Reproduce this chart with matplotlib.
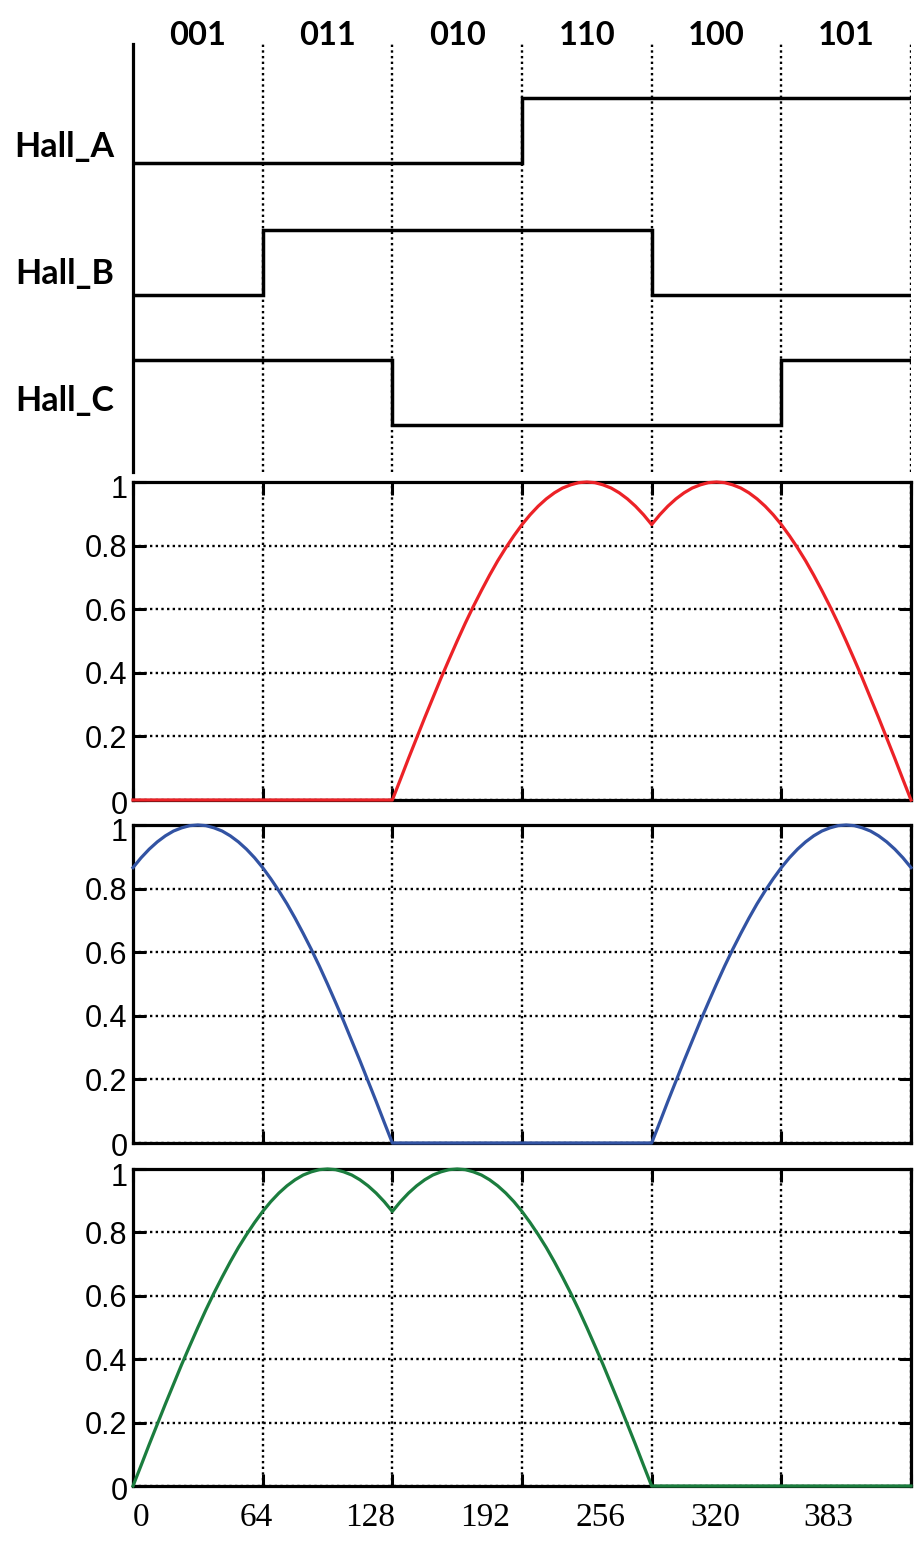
import matplotlib
matplotlib.use("Agg")
import matplotlib.pyplot as plt
from matplotlib.transforms import ScaledTranslation

# Hall sector codes (bits: Hall_A, Hall_B, Hall_C), one sector per 64 counts
SECTOR_CODES = ["001", "011", "010", "110", "100", "101"]
SECTOR_EDGES = [0, 64, 128, 192, 256, 320, 384]
HALL_NAMES = ["Hall_A", "Hall_B", "Hall_C"]

# waveform samples, every 4 counts from 0 to 384
POSITION = list(range(0, 385, 4))
PHASE_RED = [0.0] * 33 + [
    0.065, 0.131, 0.195, 0.259, 0.321, 0.383, 0.442, 0.500,
    0.556, 0.609, 0.659, 0.707, 0.752, 0.793, 0.831, 0.866,
    0.897, 0.924, 0.947, 0.966, 0.981, 0.991, 0.998, 1.000,
    0.998, 0.991, 0.981, 0.966, 0.947, 0.924, 0.897, 0.866,
    0.897, 0.924, 0.947, 0.966, 0.981, 0.991, 0.998, 1.000,
    0.998, 0.991, 0.981, 0.966, 0.947, 0.924, 0.897, 0.866,
    0.831, 0.793, 0.752, 0.707, 0.659, 0.609, 0.556, 0.500,
    0.442, 0.383, 0.321, 0.259, 0.195, 0.131, 0.065, 0.000,
]
PHASE_BLUE = [
    0.866, 0.897, 0.924, 0.947, 0.966, 0.981, 0.991, 0.998, 1.000,
    0.998, 0.991, 0.981, 0.966, 0.947, 0.924, 0.897, 0.866,
    0.831, 0.793, 0.752, 0.707, 0.659, 0.609, 0.556, 0.500,
    0.442, 0.383, 0.321, 0.259, 0.195, 0.131, 0.065, 0.000,
] + [0.0] * 32 + [
    0.065, 0.131, 0.195, 0.259, 0.321, 0.383, 0.442, 0.500,
    0.556, 0.609, 0.659, 0.707, 0.752, 0.793, 0.831, 0.866,
    0.897, 0.924, 0.947, 0.966, 0.981, 0.991, 0.998, 1.000,
    0.998, 0.991, 0.981, 0.966, 0.947, 0.924, 0.897, 0.866,
]
PHASE_GREEN = [
    0.000, 0.065, 0.131, 0.195, 0.259, 0.321, 0.383, 0.442, 0.500,
    0.556, 0.609, 0.659, 0.707, 0.752, 0.793, 0.831, 0.866,
    0.897, 0.924, 0.947, 0.966, 0.981, 0.991, 0.998, 1.000,
    0.998, 0.991, 0.981, 0.966, 0.947, 0.924, 0.897, 0.866,
    0.897, 0.924, 0.947, 0.966, 0.981, 0.991, 0.998, 1.000,
    0.998, 0.991, 0.981, 0.966, 0.947, 0.924, 0.897, 0.866,
    0.831, 0.793, 0.752, 0.707, 0.659, 0.609, 0.556, 0.500,
    0.442, 0.383, 0.321, 0.259, 0.195, 0.131, 0.065, 0.000,
] + [0.0] * 32

X_TICKS = [0, 64, 128, 192, 256, 320, 384]
X_LABEL_VALUES = [0, 64, 128, 192, 256, 320, 383]
Y_TICKS = [0, 0.2, 0.4, 0.6, 0.8, 1.0]
Y_LABELS = ["0", "0.2", "0.4", "0.6", "0.8", "1"]

COLORS = ["#ec2227", "#3253a3", "#1b7d3e"]

W, H = 915, 1543
LW = 2.3
GRID = dict(color="black", linestyle=(0, (1, 1.4)), linewidth=1.7)


def frac(left, top, right, bottom):
    return [left / W, 1 - bottom / H, (right - left) / W, (bottom - top) / H]


fig = plt.figure(figsize=(W / 100, H / 100), dpi=100)

# ---- Hall sensor panel ----
ax_h = fig.add_axes(frac(133, 44, 911, 472))
ax_h.set_xlim(0, 384)
ax_h.set_ylim(0, 1)
for side in ["top", "right", "bottom"]:
    ax_h.spines[side].set_visible(False)
ax_h.spines["left"].set_linewidth(LW)
ax_h.set_xticks(X_TICKS[1:])
ax_h.set_yticks([])
ax_h.tick_params(axis="x", length=0, labelbottom=False)
ax_h.grid(axis="x", **GRID)

bases = [0.722, 0.413, 0.11]
amp = 0.152
label_y = [0.76, 0.462, 0.166]
for i, name in enumerate(HALL_NAMES):
    states = [int(code[i]) for code in SECTOR_CODES]
    levels = [bases[i] + amp * s for s in states]
    ax_h.step(SECTOR_EDGES, levels + [levels[-1]], where="post",
              color="black", linewidth=2.5, solid_joinstyle="miter", zorder=3)
    ax_h.text(-0.024, label_y[i], name, transform=ax_h.transAxes,
              ha="right", va="center", fontsize=24.5, fontweight="bold",
              family="Lato")

for i, code in enumerate(SECTOR_CODES):
    xc = (SECTOR_EDGES[i] + SECTOR_EDGES[i + 1]) / 2
    ax_h.text(xc, 1.02, code, transform=ax_h.get_xaxis_transform(),
              ha="center", va="center", fontsize=23.5, fontweight="bold",
              family="Lato")

# ---- waveform panels ----
panels = [(482, 800), (825, 1143), (1169, 1486)]
series = [PHASE_RED, PHASE_BLUE, PHASE_GREEN]
for k, ((top, bottom), values) in enumerate(zip(panels, series)):
    ax = fig.add_axes(frac(133, top, 911, bottom))
    ax.plot(POSITION, values, color=COLORS[k], linewidth=LW, zorder=3,
            clip_on=False)
    ax.set_xlim(0, 384)
    ax.set_ylim(0, 1)
    for sp in ax.spines.values():
        sp.set_linewidth(LW)
    ax.set_xticks(X_TICKS)
    ax.set_xticklabels([])
    ax.set_yticks(Y_TICKS)
    ax.set_yticklabels(Y_LABELS)
    ax.tick_params(which="major", direction="in", length=9, width=2.2,
                   top=True, right=True, labelsize=22, pad=4,
                   labelfontfamily="Liberation Sans")
    ax.grid(which="major", **GRID)
    if k == 2:
        # tick labels in the source sit on a slightly compressed scale
        label_pos = [4 + 0.885 * v for v in X_LABEL_VALUES]
        ax.set_xticks(label_pos, minor=True)
        ax.set_xticklabels([str(v) for v in X_LABEL_VALUES], minor=True)
        ax.tick_params(axis="x", which="minor", length=0, pad=12,
                       labelsize=24, labelfontfamily="Liberation Serif")
    else:
        ax.tick_params(axis="x", which="minor", length=0)

    # nudge end labels like the source: "1" a bit below the top edge
    yt = ax.yaxis.get_major_ticks()
    yt[-1].label1.set_transform(
        yt[-1].label1.get_transform() + ScaledTranslation(0, -0.05, fig.dpi_scale_trans))
    yt[0].label1.set_transform(
        yt[0].label1.get_transform() + ScaledTranslation(0, -0.02, fig.dpi_scale_trans))

fig.savefig("out.png", dpi=100)
